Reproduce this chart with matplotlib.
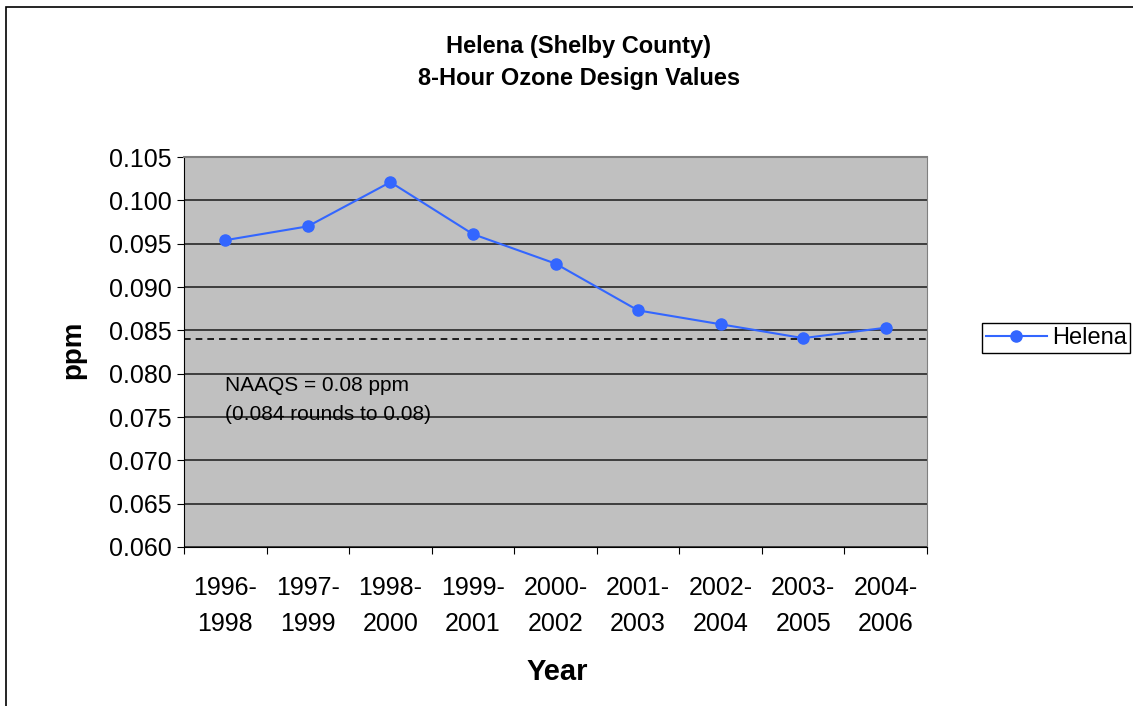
import matplotlib.pyplot as plt
from matplotlib.patches import Rectangle

periods = ["1996-\n1998", "1997-\n1999", "1998-\n2000", "1999-\n2001", "2000-\n2002",
           "2001-\n2003", "2002-\n2004", "2003-\n2005", "2004-\n2006"]
helena = [0.0954, 0.0970, 0.1021, 0.0961, 0.0927, 0.0873, 0.0857, 0.0841, 0.0853]
naaqs = 0.084
yticks = [0.060, 0.065, 0.070, 0.075, 0.080, 0.085, 0.090, 0.095, 0.100, 0.105]

plt.rcParams['font.family'] = ['Liberation Sans', 'DejaVu Sans']

W, H = 1133, 706
fig = plt.figure(figsize=(W / 100, H / 100), dpi=100)
fig.patches.append(Rectangle((6 / W, -0.1), 1.2, 1 - 7 / H + 0.1, transform=fig.transFigure,
                             fill=False, edgecolor='black', linewidth=1.2))

ax = fig.add_axes([184 / W, 1 - 547 / H, 743 / W, 390 / H])
ax.set_facecolor('#C0C0C0')

x = list(range(len(periods)))
ax.plot(x, helena, color='#3366FF', linewidth=1.5, marker='o', markersize=8, label='Helena', zorder=3)
ax.axhline(naaqs, color='black', linestyle=(0, (4, 3)), linewidth=1.2, zorder=2)

ax.set_xlim(-0.5, len(periods) - 0.5)
ax.set_ylim(0.060, 0.105)
ax.set_yticks(yticks)
ax.set_yticklabels([f"{v:.3f}" for v in yticks], fontsize=18)
ax.yaxis.grid(True, color='#333333', linewidth=1.3)
ax.set_axisbelow(True)

ax.set_xticks([i - 0.5 for i in range(len(periods) + 1)])
ax.set_xticklabels([])
ax.set_xticks(x, minor=True)
ax.set_xticklabels(periods, minor=True, fontsize=18, linespacing=1.6)
ax.tick_params(axis='x', which='minor', length=0, pad=21)
ax.tick_params(axis='x', which='major', length=5, direction='out')
ax.tick_params(axis='y', length=5, direction='out', pad=4)

for s in ['top', 'right']:
    ax.spines[s].set_color('#808080')
ax.spines['top'].set_linewidth(1.5)
ax.spines['left'].set_color('black')
ax.spines['bottom'].set_color('black')

ax.text(0.0, 0.0797, "NAAQS = 0.08 ppm\n(0.084 rounds to 0.08)", fontsize=15,
        va='top', ha='left', linespacing=1.65)

fig.text(73 / W, 1 - 350 / H, "ppm", fontsize=20, fontweight='bold', rotation=90,
         ha='center', va='center')
fig.text(557 / W, 1 - 672 / H, "Year", fontsize=21, fontweight='bold', ha='center', va='center')
fig.text(579 / W, 1 - 62 / H, "Helena (Shelby County)\n8-Hour Ozone Design Values", fontsize=17,
         fontweight='bold', ha='center', va='center', linespacing=1.5)

fig.legend(loc='center left', bbox_to_anchor=(982 / W, 1 - 338 / H), fontsize=17,
           frameon=True, fancybox=False, edgecolor='black', framealpha=1,
           handlelength=2.6, borderpad=0.15, handletextpad=0.2, borderaxespad=0)

fig.savefig("out.png", dpi=100)
